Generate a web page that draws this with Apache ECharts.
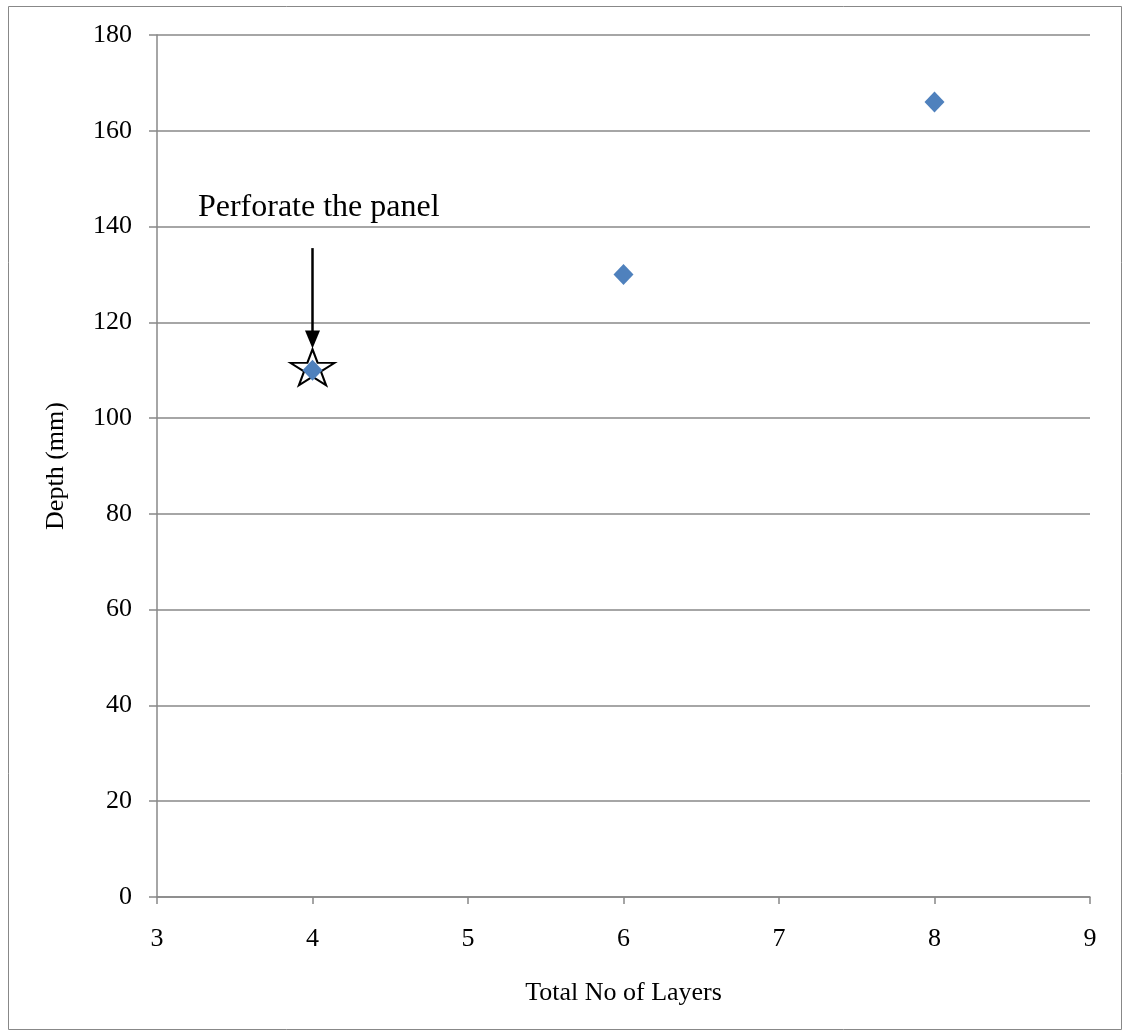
<!DOCTYPE html>
<html><head><meta charset="utf-8">
<script src="https://cdn.jsdelivr.net/npm/echarts@6/dist/echarts.min.js"></script>
<style>html,body{margin:0;padding:0;background:#fff}#c{width:1126px;height:1032px}</style>
</head><body><div id="c"></div>
<script>
const layers = [4, 6, 8];
const depth = [110, 130, 166];
const highlight = [[4, 110]];
const annotationText = 'Perforate the panel';
const annotationPos = [3.26, 144.0];
const arrowFrom = [4, 135.5];
const arrowTo = [4, 116.4];
const xTicks = [3, 9, 1];
const yTicks = [0, 180, 20];

const font = '"Liberation Serif", "Times New Roman", serif';
const starPath = 'path://M50,0 L61.2,34.5 L97.6,34.5 L68.2,55.9 L79.4,90.5 L50,69.1 L20.6,90.5 L31.8,55.9 L2.4,34.5 L38.8,34.5 Z';
const chart = echarts.init(document.getElementById('c'));
chart.setOption({
  animation: false,
  backgroundColor: '#fff',
  grid: {left: 157, right: 36, top: 35, bottom: 135},
  graphic: [{type: 'rect', shape: {x: 8.5, y: 6.5, width: 1113, height: 1023}, style: {fill: 'none', stroke: '#888', lineWidth: 1}, silent: true}],
  xAxis: {
    type: 'value', min: xTicks[0], max: xTicks[1], interval: xTicks[2],
    name: 'Total No of Layers', nameLocation: 'middle', nameGap: 83,
    nameTextStyle: {fontFamily: font, fontSize: 26, color: '#000'},
    axisLine: {lineStyle: {color: '#888', width: 1.5}},
    axisTick: {show: true, length: 7, lineStyle: {color: '#888', width: 1.5}},
    axisLabel: {fontFamily: font, fontSize: 26, color: '#000', margin: 29},
    splitLine: {show: false}
  },
  yAxis: {
    type: 'value', min: yTicks[0], max: yTicks[1], interval: yTicks[2],
    name: 'Depth (mm)', nameLocation: 'middle', nameGap: 88, nameRotate: 90,
    nameTextStyle: {fontFamily: font, fontSize: 26, color: '#000'},
    axisLine: {show: true, lineStyle: {color: '#888', width: 1.5}},
    axisTick: {show: true, length: 8, lineStyle: {color: '#888', width: 1.5}},
    axisLabel: {fontFamily: font, fontSize: 26, color: '#000', margin: 25},
    splitLine: {show: true, lineStyle: {color: '#888', width: 1.5}}
  },
  series: [
    {
      type: 'scatter', data: highlight, symbol: starPath, symbolSize: [44, 36], symbolOffset: [0, -3], z: 2,
      itemStyle: {color: '#fff', borderColor: '#000', borderWidth: 2, opacity: 1},
      markLine: {
        silent: true, symbol: ['none', 'triangle'], symbolSize: [15, 18],
        lineStyle: {color: '#000', width: 2.5, type: 'solid'},
        itemStyle: {color: '#000'},
        label: {show: false},
        data: [[{coord: arrowFrom}, {coord: arrowTo}]]
      },
      markPoint: {
        silent: true, symbol: 'rect', symbolSize: 1,
        itemStyle: {color: 'rgba(0,0,0,0)'},
        label: {show: true, position: 'right', distance: 0, formatter: annotationText,
          fontFamily: font, fontSize: 32, color: '#000'},
        data: [{coord: annotationPos}]
      }
    },
    {
      type: 'scatter', data: layers.map((x, i) => [x, depth[i]]),
      symbol: 'diamond', symbolSize: [20, 21], z: 3,
      itemStyle: {color: '#4F81BD', opacity: 1}
    }
  ]
});
</script></body></html>
